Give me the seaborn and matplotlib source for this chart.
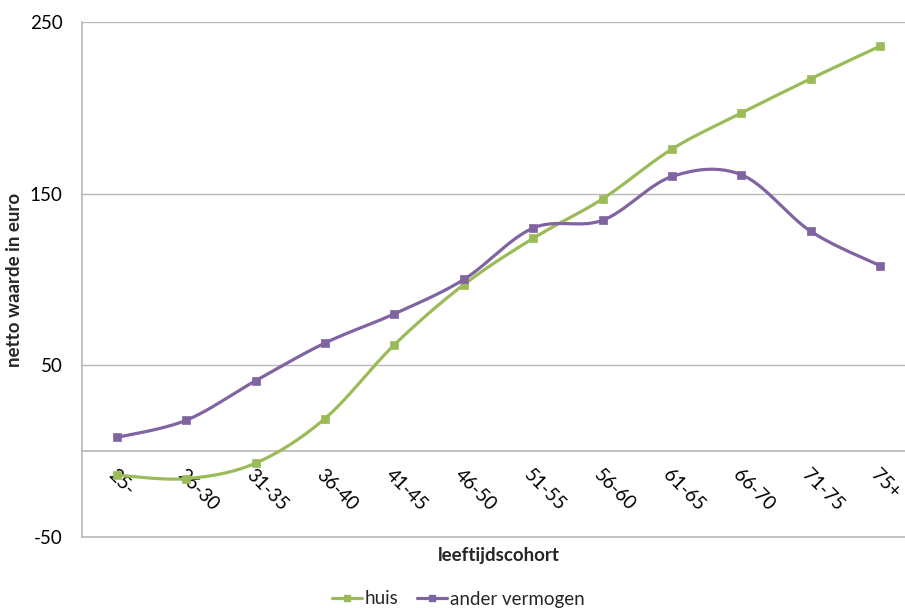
import numpy as np
import pandas as pd
import matplotlib
matplotlib.use("Agg")
import matplotlib.pyplot as plt
from matplotlib.lines import Line2D
import seaborn as sns

# Age cohorts and net worth per cohort
cohorts = ["25-", "26-30", "31-35", "36-40", "41-45", "46-50",
           "51-55", "56-60", "61-65", "66-70", "71-75", "75+"]
huis = [-14, -16, -7, 19, 62, 97, 124, 147, 176, 197, 217, 236]
ander_vermogen = [8, 18, 41, 63, 80, 100, 130, 134.5, 160, 161, 128, 108]
y_ticks = [-50, 50, 150, 250]

GREEN = "#9BBB59"
PURPLE = "#8064A2"
GRID = "#B8B8B8"
FS = 13.5


def smooth_curve(xs, ys, steps=30):
    """Bezier segments with Catmull-Rom control points (spreadsheet-style smoothing)."""
    p = np.column_stack([xs, ys]).astype(float)
    p_ext = np.vstack([p[0], p, p[-1]])
    t = np.linspace(0, 1, steps)[:, None]
    out = []
    for i in range(len(p) - 1):
        p0, p1, p2, p3 = p_ext[i], p_ext[i + 1], p_ext[i + 2], p_ext[i + 3]
        c1 = p1 + (p2 - p0) / 6.0
        c2 = p2 - (p3 - p1) / 6.0
        seg = ((1 - t) ** 3) * p1 + 3 * ((1 - t) ** 2) * t * c1 \
            + 3 * (1 - t) * t ** 2 * c2 + t ** 3 * p2
        out.append(seg if i == 0 else seg[1:])
    arr = np.vstack(out)
    return arr[:, 0], arr[:, 1]


sns.set_theme(style="white")
plt.rcParams["font.family"] = ["Lato", "DejaVu Sans"]

fig = plt.figure(figsize=(9.05, 6.08), dpi=100)
ax = fig.add_axes([82 / 905, 1 - 537 / 608, 833 / 905, 515 / 608])

xpos = np.arange(len(cohorts))
series = [("huis", huis, GREEN), ("ander vermogen", ander_vermogen, PURPLE)]

for name, vals, col in series:
    sx, sy = smooth_curve(xpos, vals)
    sns.lineplot(x=sx, y=sy, sort=False, estimator=None, color=col,
                 linewidth=2.3, ax=ax, zorder=3)
    pts = pd.DataFrame({"x": xpos, "y": vals})
    sns.scatterplot(data=pts, x="x", y="y", marker="s", s=34, color=col,
                    edgecolor=col, linewidth=0.5, ax=ax, zorder=4)

ax.set_xlim(-0.5, len(cohorts) - 0.5)
ax.set_ylim(-50, 250)

# gridlines and plot frame
for g in [50, 150, 250]:
    ax.axhline(g, color=GRID, linewidth=1.0, zorder=1)
ax.axhline(-50, color=GRID, linewidth=1.2, zorder=1, clip_on=False)

for s in ["top", "right"]:
    ax.spines[s].set_visible(False)
ax.spines["left"].set_color(GRID)
ax.spines["left"].set_linewidth(1.2)
ax.spines["bottom"].set_position(("data", 0))
ax.spines["bottom"].set_color(GRID)
ax.spines["bottom"].set_linewidth(1.2)

ax.set_yticks(y_ticks)
ax.set_yticklabels([str(v) for v in y_ticks], fontsize=FS, color="black")
ax.tick_params(axis="y", length=0, pad=14)

ax.set_xticks(xpos)
ax.set_xticklabels(cohorts, fontsize=FS, rotation=-45, ha="left",
                   va="top", rotation_mode="anchor", color="black")
ax.tick_params(axis="x", length=0, pad=11)

ax.set_xlabel("")
ax.set_ylabel("netto waarde in euro", fontsize=FS, fontweight="bold")
ax.yaxis.set_label_coords(-0.071, 0.5)

fig.text(499 / 905, 1 - 555 / 608, "leeftijdscohort", ha="center",
         va="center", fontsize=FS, fontweight="bold")

handles = [Line2D([], [], color=col, linewidth=2.3, marker="s", markersize=5)
           for _, _, col in series]
fig.legend(handles, [n for n, _, _ in series], loc="center",
           bbox_to_anchor=(458 / 905, 1 - 599 / 608), ncol=2, frameon=False,
           fontsize=FS, handlelength=1.6, handletextpad=0.15,
           columnspacing=1.0, borderpad=0, borderaxespad=0)

fig.savefig("out.png", dpi=100)
